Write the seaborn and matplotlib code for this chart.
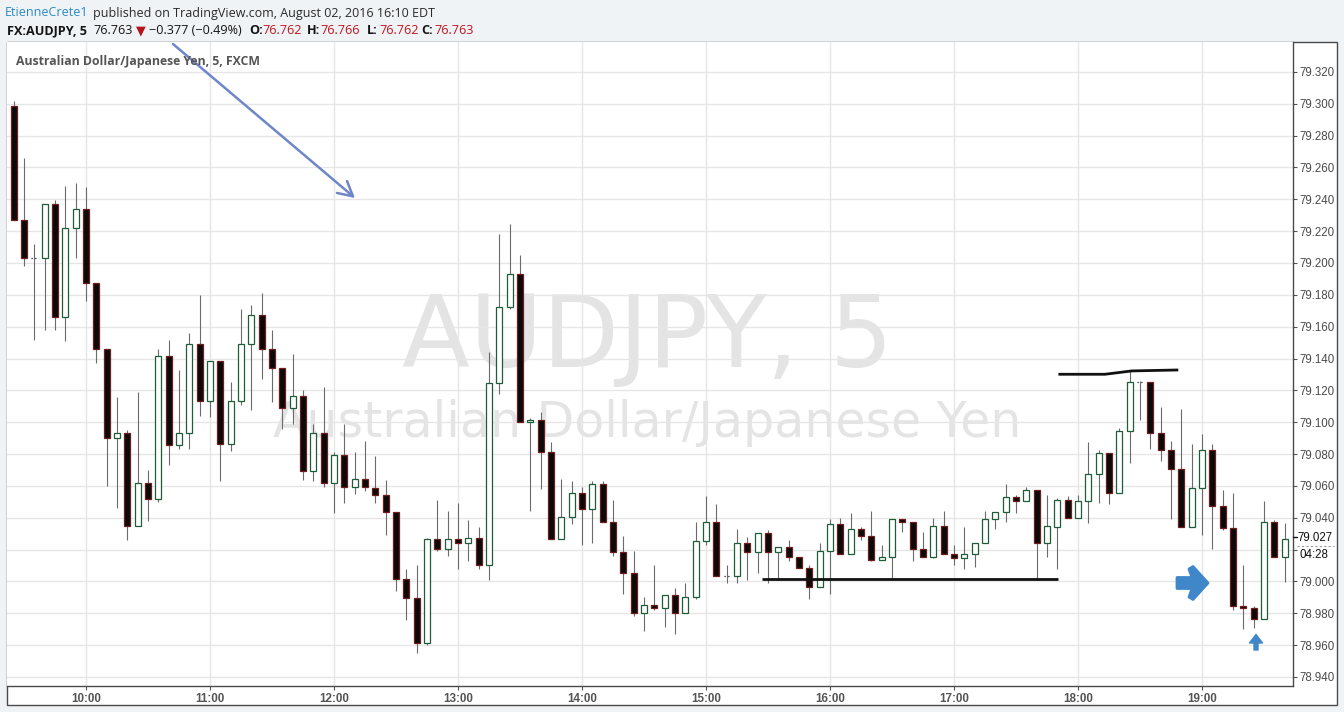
import matplotlib
matplotlib.use("Agg")
import matplotlib.pyplot as plt
import seaborn as sns
import numpy as np
import pandas as pd
from matplotlib.patches import Rectangle, Polygon

# ---------------- data (5-minute AUDJPY bars, 02 Aug 2016) ----------------
start_time = "2016-08-02 09:25"
opens = [79.2983, 79.2272, 79.2033, 79.2033, 79.2372, 79.1661, 79.2222, 79.2341, 79.1877, 79.1462,
         79.0898, 79.0935, 79.0345, 79.0615, 79.0515, 79.1418, 79.0854, 79.0929, 79.1494, 79.1136,
         79.1387, 79.0866, 79.1135, 79.1492, 79.1674, 79.1461, 79.1342, 79.1087, 79.1166, 79.0695,
         79.0934, 79.0616, 79.0796, 79.0595, 79.0645, 79.0589, 79.0545, 79.0438, 79.0018, 78.9898,
         78.9610, 79.0269, 79.0206, 79.0267, 79.0242, 79.0273, 79.0104, 79.1246, 79.1723, 79.1930,
         79.1003, 79.1014, 79.0813, 79.0267, 79.0407, 79.0556, 79.0455, 79.0612, 79.0374, 79.0186,
         79.0054, 78.9803, 78.9853, 78.9834, 78.9914, 78.9803, 78.9903, 79.0255, 79.0374, 79.0035,
         79.0035, 79.0242, 79.0186, 79.0305, 79.0186, 79.0217, 79.0154, 79.0085, 78.9966, 79.0194,
         79.0359, 79.0175, 79.0326, 79.0288, 79.0133, 79.0156, 79.0389, 79.0370, 79.0205, 79.0156,
         79.0345, 79.0175, 79.0150, 79.0169, 79.0244, 79.0395, 79.0439, 79.0527, 79.0508, 79.0577,
         79.0244, 79.0340, 79.0510, 79.0401, 79.0503, 79.0673, 79.0805, 79.0554, 79.0943, 79.1250,
         79.1250, 79.0930, 79.0823, 79.0704, 79.0342, 79.0585, 79.0823, 79.0472, 79.0334, 78.9844,
         78.9832, 78.9763, 79.0372, 79.0152]
highs = [79.3015, 79.2661, 79.2117, 79.2372, 79.2393, 79.2485, 79.2504, 79.2475, 79.1877, 79.1462,
         79.1157, 79.0954, 79.1188, 79.0699, 79.1458, 79.1515, 79.1326, 79.1563, 79.1797, 79.1387,
         79.1387, 79.1254, 79.1714, 79.1733, 79.1813, 79.1576, 79.1342, 79.1426, 79.1200, 79.0986,
         79.1218, 79.0815, 79.0986, 79.0810, 79.0880, 79.0785, 79.0635, 79.0438, 79.0076, 79.0101,
         79.0275, 79.0509, 79.0442, 79.0495, 79.0388, 79.0344, 79.1443, 79.2183, 79.2246, 79.2051,
         79.1026, 79.1066, 79.0878, 79.0644, 79.0633, 79.0595, 79.0633, 79.0633, 79.0512, 79.0286,
         79.0188, 78.9899, 79.0100, 78.9914, 78.9956, 78.9987, 79.0376, 79.0539, 79.0489, 79.0104,
         79.0326, 79.0276, 79.0305, 79.0320, 79.0217, 79.0257, 79.0154, 79.0106, 79.0244, 79.0391,
         79.0397, 79.0428, 79.0341, 79.0441, 79.0228, 79.0389, 79.0389, 79.0370, 79.0311, 79.0397,
         79.0441, 79.0226, 79.0341, 79.0244, 79.0441, 79.0439, 79.0610, 79.0541, 79.0594, 79.0577,
         79.0541, 79.0526, 79.0537, 79.0541, 79.0876, 79.0823, 79.0805, 79.0964, 79.1321, 79.1259,
         79.1250, 79.1095, 79.0882, 79.1083, 79.0863, 79.0926, 79.0863, 79.0572, 79.0554, 79.0104,
         78.9844, 79.0503, 79.0384, 79.0365]
lows = [79.2272, 79.1981, 79.1519, 79.1582, 79.1582, 79.1510, 79.2031, 79.1762, 79.1372, 79.0598,
        79.0464, 79.0262, 79.0345, 79.0381, 79.0500, 79.0732, 79.0833, 79.0833, 79.1040, 79.1033,
        79.0632, 79.0819, 79.1108, 79.1076, 79.1271, 79.1126, 79.0957, 79.0986, 79.0637, 79.0631,
        79.0593, 79.0430, 79.0495, 79.0551, 79.0568, 79.0492, 79.0292, 78.9940, 78.9758, 78.9553,
        78.9603, 79.0191, 79.0160, 79.0077, 79.0127, 79.0077, 79.0010, 79.1175, 79.1710, 79.1003,
        79.0443, 79.0579, 79.0267, 79.0267, 79.0361, 79.0229, 79.0242, 79.0374, 79.0160, 78.9920,
        78.9782, 78.9688, 78.9820, 78.9713, 78.9669, 78.9803, 78.9891, 79.0228, 79.0035, 78.9989,
        78.9989, 79.0008, 79.0052, 78.9989, 79.0008, 79.0127, 79.0085, 78.9889, 78.9966, 78.9922,
        79.0175, 79.0175, 79.0259, 79.0129, 79.0133, 79.0016, 79.0311, 79.0129, 79.0156, 79.0146,
        79.0175, 79.0104, 79.0075, 79.0092, 79.0244, 79.0330, 79.0374, 79.0431, 79.0508, 79.0010,
        79.0154, 79.0075, 79.0401, 79.0401, 79.0367, 79.0495, 79.0489, 79.0554, 79.0746, 79.1016,
        79.0834, 79.0759, 79.0395, 79.0342, 79.0342, 79.0290, 79.0206, 79.0321, 78.9819, 78.9700,
        78.9710, 78.9763, 79.0152, 78.9999]
closes = [79.2272, 79.2033, 79.2033, 79.2372, 79.1661, 79.2222, 79.2341, 79.1877, 79.1462, 79.0898,
          79.0935, 79.0345, 79.0615, 79.0515, 79.1418, 79.0854, 79.0929, 79.1494, 79.1136, 79.1387,
          79.0866, 79.1135, 79.1492, 79.1674, 79.1461, 79.1342, 79.1087, 79.1166, 79.0695, 79.0934,
          79.0616, 79.0796, 79.0595, 79.0645, 79.0591, 79.0545, 79.0438, 79.0018, 78.9898, 78.9610,
          79.0269, 79.0206, 79.0269, 79.0242, 79.0273, 79.0104, 79.1246, 79.1723, 79.1930, 79.1003,
          79.1016, 79.0813, 79.0267, 79.0407, 79.0556, 79.0455, 79.0612, 79.0374, 79.0185, 79.0054,
          78.9803, 78.9853, 78.9834, 78.9914, 78.9803, 78.9903, 79.0255, 79.0374, 79.0035, 79.0035,
          79.0242, 79.0186, 79.0305, 79.0186, 79.0217, 79.0154, 79.0085, 78.9966, 79.0192, 79.0359,
          79.0175, 79.0326, 79.0288, 79.0133, 79.0156, 79.0389, 79.0370, 79.0205, 79.0156, 79.0345,
          79.0175, 79.0150, 79.0169, 79.0244, 79.0395, 79.0439, 79.0527, 79.0508, 79.0577, 79.0244,
          79.0345, 79.0510, 79.0401, 79.0503, 79.0673, 79.0805, 79.0554, 79.0943, 79.1250, 79.1250,
          79.0930, 79.0823, 79.0704, 79.0342, 79.0585, 79.0823, 79.0472, 79.0334, 78.9844, 78.9832,
          78.9763, 79.0372, 79.0152, 79.0265]
price_ticks = [78.940, 78.960, 78.980, 79.000, 79.020, 79.040, 79.060, 79.080, 79.100, 79.120,
               79.140, 79.160, 79.180, 79.200, 79.220, 79.240, 79.260, 79.280, 79.300, 79.320]
support_level = 79.0015
resistance_x = [101.1, 105.6, 108.2, 112.7]
resistance_y = [79.1301, 79.1301, 79.1322, 79.1328]
last_price = "79.027"
countdown = "04:28"

# ---------------- frame ----------------
W, H = 1344, 712
sns.set_style("white")
plt.rcParams['font.family'] = ['Liberation Sans', 'DejaVu Sans']

times = pd.date_range(start_time, periods=len(opens), freq="5min")
df = pd.DataFrame({"idx": np.arange(len(opens)), "open": opens, "high": highs,
                   "low": lows, "close": closes})
df["body"] = df["close"] - df["open"]

def fx(px):
    return px / W

def fy(py):
    return 1 - py / H

fig = plt.figure(figsize=(W / 100, H / 100), dpi=100, facecolor="#f0f3f6")
fig.add_artist(Rectangle((fx(7), fy(705)), (1337 - 7) / W, (705 - 42) / H,
                         transform=fig.transFigure, facecolor="white",
                         edgecolor="#4a4a4a", lw=1.0, zorder=-5))
ax = fig.add_axes([fx(7), fy(686), (1293 - 7) / W, (686 - 42) / H])
ax.set_facecolor("white")

# watermark
ax.text(fx(647), fy(367), "AUDJPY, 5", transform=fig.transFigure, ha="center",
        va="baseline", fontsize=71.5, color="#e4e4e4", family="DejaVu Sans", zorder=0.2)
ax.text(fx(647), fy(437), "Australian Dollar/Japanese Yen", transform=fig.transFigure,
        ha="center", va="baseline", fontsize=35.3, color="#e4e4e4", family="DejaVu Sans",
        zorder=0.2)

# wicks
ax.vlines(df["idx"], df["low"], df["high"], color="#6b6b6b", lw=0.8, zorder=2)

bull = df[df["body"] > 0].sort_values("idx")
bear = df[df["body"] < 0].sort_values("idx")
doji = df[df["body"] == 0]

sns.barplot(data=bull, x="idx", y="body", native_scale=True, width=0.6, errorbar=None,
            ax=ax, bottom=bull["open"].values, color="white", saturation=1,
            facecolor="white", edgecolor="#1f5c3a", linewidth=0.9, zorder=3)
sns.barplot(data=bear, x="idx", y="body", native_scale=True, width=0.6, errorbar=None,
            ax=ax, bottom=bear["open"].values, color="#0a0a0a", saturation=1,
            facecolor="#0a0a0a", edgecolor="#6e1c1c", linewidth=0.9, zorder=3)
ax.hlines(doji["open"], doji["idx"] - 0.3, doji["idx"] + 0.3, color="#222222",
          lw=0.9, linestyles=(0, (1, 2)), zorder=3)

# drawn levels
ax.plot([72.4, 101.1], [support_level, support_level], color="#111111", lw=2.0,
        solid_capstyle="butt", zorder=4)
ax.plot(resistance_x, resistance_y, color="#111111", lw=2.0, solid_capstyle="butt", zorder=4)

# axes styling
ax.set_xlim(-0.645, 123.8)
ax.set_ylim(78.9343, 79.3388)
hour_pos = df["idx"][times.minute == 0].values
hour_lab = [t.strftime("%H:%M") for t in times[times.minute == 0]]
ax.set_xticks(hour_pos)
ax.set_xticklabels(hour_lab, fontweight="bold")
ax.set_yticks(price_ticks)
# the axis label next to the last-price marker is hidden by it in the source
lp = float(last_price)
ax.set_yticklabels(["" if abs(v - lp) < 0.01 else f"{v:.3f}" for v in price_ticks])
ax.yaxis.tick_right()
ax.grid(True, color="#e6e6e6", lw=1.0, zorder=0)
ax.set_axisbelow(True)
ax.set_xlabel("")
ax.set_ylabel("")
for s in ["left", "top"]:
    ax.spines[s].set_visible(False)
for s in ["right", "bottom"]:
    ax.spines[s].set_color("#4a4a4a")
    ax.spines[s].set_linewidth(1.0)
ax.tick_params(axis="y", right=True, left=False, length=3, width=0.8, color="#555555",
               labelsize=8.3, labelcolor="#4a4a4a", pad=2)
ax.tick_params(axis="x", bottom=True, length=3, width=0.8, color="#555555",
               labelsize=8.4, labelcolor="#555555", pad=2)

# last price marker
fig.text(fx(1297), fy(538), last_price, fontsize=8.3, color="#111111", va="center", zorder=6)
fig.text(fx(1299), fy(555), countdown, fontsize=8.3, color="#111111", va="center", zorder=6)
fig.add_artist(plt.Line2D([fx(1293), fx(1297)], [fy(537), fy(537)], color="#111111",
                          lw=1.0, transform=fig.transFigure, zorder=6))
fig.add_artist(plt.Line2D([fx(1297), fx(1334)], [fy(546), fy(546)], color="#999999",
                          lw=0.8, ls=(0, (2, 2)), transform=fig.transFigure, zorder=6))

# annotations
ax.annotate("", xy=(355, H - 198), xytext=(173, H - 44), xycoords="figure pixels",
            textcoords="figure pixels", annotation_clip=False,
            arrowprops=dict(arrowstyle="->,head_length=0.72,head_width=0.39",
                            color="#6f86c8", lw=1.8, mutation_scale=14.4,
                            shrinkA=0, shrinkB=0))
right_arrow = [(1177, 577.5), (1192, 577.5), (1189, 569), (1193, 566.5), (1208, 583),
               (1193, 599.5), (1189, 597), (1192, 588.5), (1177, 588.5)]
fig.add_artist(Polygon([(fx(a), fy(b)) for a, b in right_arrow], closed=True,
                       transform=fig.transFigure, facecolor="#3f87c9", edgecolor="#3f87c9",
                       lw=2.0, joinstyle="round", zorder=5))
up_arrow = [(1254, 650), (1254, 643), (1249.5, 643), (1256, 634.5), (1262.5, 643),
            (1258, 643), (1258, 650)]
fig.add_artist(Polygon([(fx(a), fy(b)) for a, b in up_arrow], closed=True,
                       transform=fig.transFigure, facecolor="#3f87c9", edgecolor="#3f87c9",
                       lw=1.0, joinstyle="round", zorder=5))

# inner title
fig.text(fx(15.5), fy(65), "Australian Dollar/Japanese Yen, 5, FXCM", fontsize=8.85,
         fontweight="bold", color="#555555", family="Open Sans", va="baseline")

# header
hdr = dict(family=["Open Sans", "DejaVu Sans"], va="baseline")
fig.text(fx(5), fy(16.5), "EtienneCrete1", fontsize=9.0, color="#2b8ac6", **hdr)
fig.text(fx(93), fy(16.5), "published on TradingView.com, August 02, 2016 16:10 EDT",
         fontsize=9.0, color="#2a2a2a", **hdr)
line2 = [(7, "FX:AUDJPY, 5", "bold", "#141414"),
         (93, "76.763", "normal", "#141414"),
         (135.5, "\u25BC", "normal", "#b5121b"),
         (149, "\u22120.377 (\u22120.49%)", "normal", "#141414"),
         (249, "O:", "bold", "#141414"),
         (262, "76.762", "normal", "#c0141e"),
         (307, "H:", "bold", "#141414"),
         (320, "76.766", "normal", "#c0141e"),
         (367, "L:", "bold", "#141414"),
         (379, "76.762", "normal", "#c0141e"),
         (421, "C:", "bold", "#141414"),
         (434, "76.763", "normal", "#c0141e")]
for xp, s, wt, col in line2:
    fig.text(fx(xp), fy(34), s, fontsize=9.1, fontweight=wt, color=col, **hdr)

fig.savefig("out.png", dpi=100, facecolor=fig.get_facecolor())
